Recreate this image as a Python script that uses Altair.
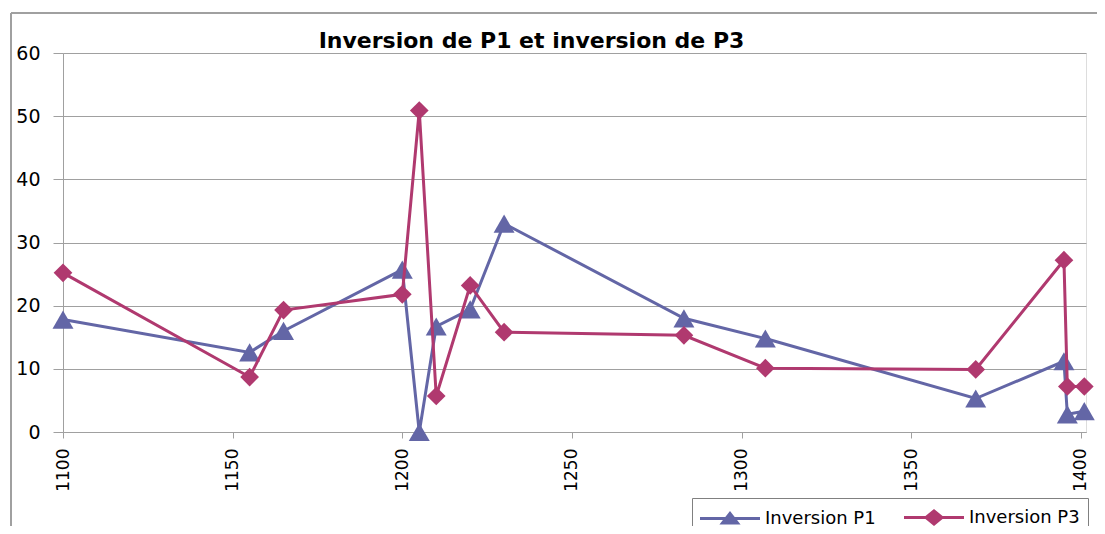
import altair as alt
import pandas as pd

# ---- data ----
years = [1100, 1155, 1165, 1200, 1205, 1210, 1220, 1230, 1283, 1307, 1369, 1395, 1396, 1401]
inversion_p1 = [17.8, 12.6, 16.0, 25.7, 0.0, 16.7, 19.4, 33.0, 18.0, 14.8, 5.3, 11.2, 2.8, 3.3]
inversion_p3 = [25.2, 8.7, 19.3, 21.8, 50.9, 5.7, 23.2, 15.8, 15.3, 10.1, 9.9, 27.2, 7.2, 7.2]
series_names = ["Inversion P1", "Inversion P3"]
series_colors = ["#6366A6", "#B0396F"]
x_ticks = [1100, 1150, 1200, 1250, 1300, 1350, 1400]
y_ticks = [0, 10, 20, 30, 40, 50, 60]

rows = []
for name, vals in zip(series_names, [inversion_p1, inversion_p3]):
    for yr, v in zip(years, vals):
        rows.append({"year": yr, "value": v, "series": name})
df = pd.DataFrame(rows)

GRAY = "#A0A0A0"
FONT = "DejaVu Sans"

x_enc = alt.X(
    "year:Q",
    scale=alt.Scale(domain=[1100, 1401.5], nice=False, zero=False),
    axis=alt.Axis(values=x_ticks, labelAngle=270, grid=False, tickSize=6,
                  tickColor=GRAY, domainColor=GRAY, labelFontSize=17,
                  labelPadding=10, labelColor="black", labelFont=FONT,
                  title=None, format="d", labelFlush=False),
)
y_enc = alt.Y(
    "value:Q",
    scale=alt.Scale(domain=[0, 60], nice=False),
    axis=alt.Axis(values=y_ticks, grid=True, gridColor=GRAY, tickSize=10,
                  tickColor=GRAY, domainColor=GRAY, labelFontSize=19,
                  labelPadding=13, labelColor="black", labelFont=FONT,
                  title=None, labelFlush=False),
)

base = alt.Chart(df)

layers = []
marker_shapes = ["triangle-up", "diamond"]
marker_sizes = [440, 350]
for name, col, shp, sz in zip(series_names, series_colors, marker_shapes, marker_sizes):
    sub = base.transform_filter(alt.datum.series == name)
    layers.append(sub.mark_line(strokeWidth=3).encode(x=x_enc, y=y_enc, color=alt.value(col)))
    layers.append(sub.mark_point(filled=True, shape=shp, size=sz, opacity=1, strokeWidth=0)
                  .encode(x=x_enc, y=y_enc, color=alt.value(col)))

# legend symbols: line + marker drawn as stroked paths (unit = 10 px at size 400)
tri_path = ("M-3,0H3M0,-0.5L0.75,0.45L-0.75,0.45Z"
            "M-0.55,0.2H0.55M-0.35,-0.05H0.35M-0.15,-0.3H0.15")
dia_path = ("M-3,0H3M0,-0.65L0.8,0L0,0.65L-0.8,0Z"
            "M-0.45,-0.25H0.45M-0.45,0.25H0.45M-0.2,-0.45H0.2M-0.2,0.45H0.2")

legend = alt.Legend(
    title=None, orient="none", legendX=629, legendY=445, direction="horizontal",
    strokeColor="#808080", fillColor="white", padding=8, cornerRadius=0,
    symbolSize=400, symbolStrokeWidth=3, symbolOpacity=1,
    symbolOffset=18.5, labelOffset=23.5, columnPadding=22,
    labelFont=FONT, labelFontSize=18, labelColor="black",
)
legend_layer = base.mark_point(filled=False, opacity=0, size=400, strokeWidth=3).encode(
    x=x_enc, y=y_enc,
    color=alt.Color("series:N", scale=alt.Scale(domain=series_names, range=series_colors), legend=legend),
    shape=alt.Shape("series:N", scale=alt.Scale(domain=series_names, range=[tri_path, dia_path]), legend=legend),
)

frame_data = alt.Data(values=[{"k": 1}])
frame_left = alt.Chart(frame_data).mark_rule(color=GRAY, strokeWidth=2).encode(
    x=alt.value(-52), y=alt.value(-40), y2=alt.value(490))
frame_top = alt.Chart(frame_data).mark_rule(color=GRAY, strokeWidth=2).encode(
    x=alt.value(-52), x2=alt.value(1050), y=alt.value(-40))

chart = alt.layer(frame_left, frame_top, *layers, legend_layer).properties(
    width=1023, height=379,
    title=alt.TitleParams("Inversion de P1 et inversion de P3", fontSize=22, font=FONT,
                          fontWeight="bold", anchor="middle", frame="group", dx=-43,
                          dy=45, offset=4, color="black"),
    autosize=alt.AutoSizeParams(type="none"),
    padding={"left": 55, "top": 45, "right": 11, "bottom": 94},
).configure_view(stroke=None).configure(background="white")

chart.save("out.html", embed_options={"renderer": "svg", "actions": False})
